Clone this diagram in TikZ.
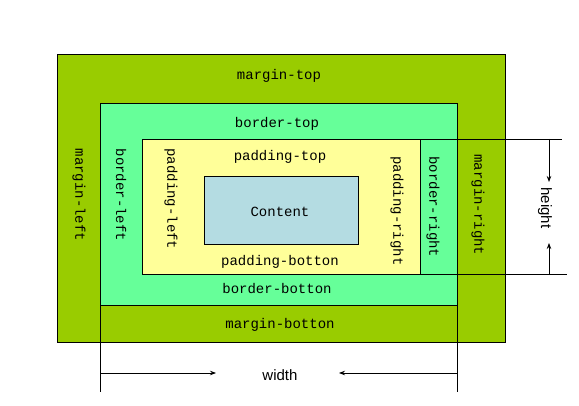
\documentclass[tikz,border=0pt]{standalone}
\usepackage{fontspec}
\setmonofont{Liberation Mono}
\setsansfont{Liberation Sans}
\usetikzlibrary{arrows.meta}
\definecolor{marginc}{HTML}{99CC00}
\definecolor{borderc}{HTML}{66FF99}
\definecolor{paddingc}{HTML}{FFFF99}
\definecolor{contentc}{HTML}{B4DCE2}
\begin{document}
\begin{tikzpicture}[x=1pt,y=-1pt,
  box/.style={draw=black, line width=0.8pt, inner sep=0pt, outer sep=0pt, anchor=north west},
  lbl/.style={font=\ttfamily\fontsize{14}{14}\selectfont, inner sep=0pt},
  vlbl/.style={lbl, rotate=-90},
  dimlbl/.style={font=\sffamily\fontsize{15}{15}\selectfont, inner sep=0pt},
  dimline/.style={line width=0.8pt},
  arr/.style={dimline, -{Stealth[length=6pt,width=4.5pt]}}]
\useasboundingbox[fill=white] (0,0) rectangle (579,406);
% boxes
\node[box, fill=marginc, minimum width=448pt, minimum height=288pt] (margin) at (57,54) {};
\node[box, fill=borderc, minimum width=357pt, minimum height=202pt] (border) at (100,103) {};
\node[box, fill=paddingc, minimum width=278pt, minimum height=135pt] (padding) at (142,139) {};
\node[box, fill=contentc, minimum width=154pt, minimum height=68pt] (content) at (204,176) {};
% labels
\node[lbl] (mt) at (279,76) {margin-top};
\node[lbl] (bt) at (277,124) {border-top};
\node[lbl] (pt) at (280,157) {padding-top};
\node[lbl] (ct) at (280,212) {Content};
\node[lbl] (pb) at (280,262) {padding-botton};
\node[lbl] (bb) at (277,289) {border-botton};
\node[lbl] (mb) at (280,325) {margin-botton};
\node[vlbl] (ml) at (79,195) {margin-left};
\node[vlbl] (bl) at (121,195) {border-left};
\node[vlbl] (pl) at (171,199) {padding-left};
\node[vlbl] (pr) at (397,211) {padding-right};
\node[vlbl] (br) at (433,207) {border-right};
\node[vlbl] (mr) at (478,205) {margin-right};
% height dimension
\coordinate (hT) at (562,139);
\coordinate (hB) at (567,274);
\coordinate (hTv) at (549,139);
\coordinate (hBv) at (549,274);
\coordinate (hTa) at (549,182);
\coordinate (hBa) at (549,243);
\draw[dimline] (padding.north east) -- (hT);
\draw[dimline] (padding.south east) -- (hB);
\draw[arr] (hTv) -- (hTa);
\draw[arr] (hBv) -- (hBa);
\node[dimlbl, rotate=-90] (hl) at (545,208) {height};
% width dimension
\coordinate (wL) at (100,392);
\coordinate (wR) at (457,392);
\coordinate (wLa) at (100,373);
\coordinate (wRa) at (457,373);
\coordinate (wLe) at (216,373);
\coordinate (wRe) at (339,373);
\draw[dimline] (border.south west) -- (wL);
\draw[dimline] (border.south east) -- (wR);
\draw[arr] (wLa) -- (wLe);
\draw[arr] (wRa) -- (wRe);
\node[dimlbl] (wl) at (280,375) {width};
\end{tikzpicture}
\end{document}
